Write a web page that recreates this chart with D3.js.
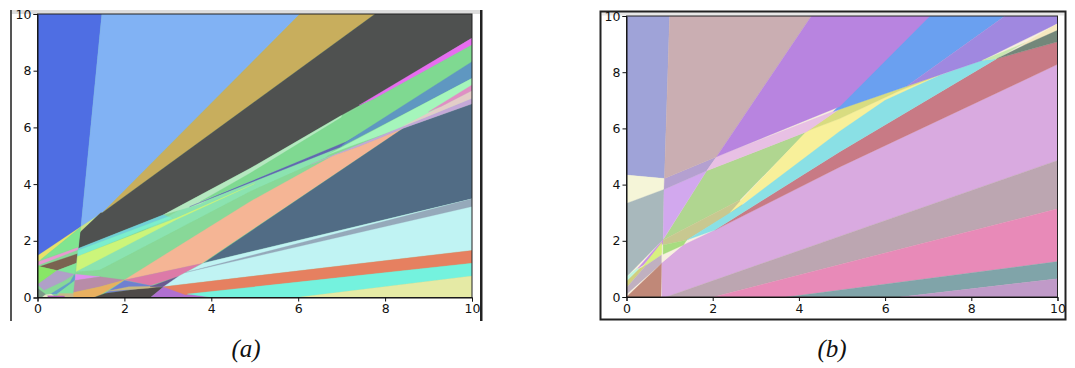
<!DOCTYPE html>
<html>
<head>
<meta charset="utf-8">
<script src="https://cdn.jsdelivr.net/npm/d3@7"></script>
<style>
html, body { margin: 0; padding: 0; background: #fff; }
svg { display: block; }
.axis text { font-family: "DejaVu Sans", sans-serif; font-size: 12.5px; fill: #111; }
.axis path, .axis line { stroke: #111; stroke-width: 1; }
.caption { font-family: "Liberation Serif", serif; font-style: italic; font-size: 25px; fill: #111; }
</style>
</head>
<body>
<svg id="chart" width="1075" height="368"></svg>
<script>
var tickValues = [0, 2, 4, 6, 8, 10];
var captions = ["(a)", "(b)"];

// regions of panel a, back to front, [x, y] in data units
var regionsA = [
    [[0,0],[10,0],[10,10],[0,10]],
    [[0,10],[1.48,10],[1.0,2.5],[0,1.45]],
    [[1.48,10],[6.04,10],[1.5,3.0],[1.0,2.5]],
    [[6.04,10],[7.77,10],[1.5,3.0]],
    [[1.0,2.5],[1.5,3.0],[1.45,2.98],[0.98,2.3]],
    [[1.45,2.98],[1.5,3.0],[7.77,10],[10,10],[10,9.15],[7.73,7.05],[6.96,6.4],[4.9,4.56],[2.9,2.92],[0.95,1.74],[0.98,2.3]],
    [[0,1.47],[1.0,2.5],[0,1.25]],
    [[0.1,1.36],[1.0,2.48],[0.93,1.76]],
    [[0,1.25],[0.93,1.76],[0.93,1.68],[0,1.13]],
    [[0.05,1.09],[0.92,1.54],[0.89,1.21],[0.45,0.95]],
    [[0,1.1],[0.05,1.09],[0.45,0.95],[0,0.46]],
    [[0.45,0.95],[0.89,1.21],[0.85,0.82]],
    [[0.45,0.95],[0.85,0.82],[0.6,0.58],[0.15,0.26],[0,0.46]],
    [[0.85,0.82],[0.75,0.55],[0.3,0.12],[0.45,0.12],[0.88,0.62]],
    [[0.88,0.62],[0.45,0.12],[0.5,0],[0.85,0]],
    [[0.5,0.14],[0.85,0.14],[0.85,0],[0.42,0]],
    [[0,0.33],[0.2,0.1],[0.1,0],[0,0]],
    [[0.18,0.1],[0.32,0.12],[0.42,0],[0.1,0]],
    [[0.23,0.06],[0.62,0.05],[0.62,0],[0.25,0]],
    [[0.89,0.92],[3.5,3.3],[6.96,5.4],[6.6,4.9],[4.9,3.74],[3.5,2.62],[1.44,0.97]],
    [[0.85,0.82],[1.44,0.97],[3.5,2.62],[4.9,3.74],[6.6,4.9],[6.6,4.5],[2.0,0.55],[1.44,0.73]],
    [[0.95,1.74],[2.9,2.92],[3.0,2.85],[0.93,1.66]],
    [[0.93,1.66],[3.0,2.85],[3.1,2.8],[0.92,1.45]],
    [[0.92,1.45],[3.2,2.8],[5.0,4.02],[3.2,2.75],[0.89,0.92]],
    [[0.88,0.82],[1.44,0.73],[0.86,0.6]],
    [[0.86,0.6],[1.44,0.73],[2.0,0.62],[1.44,0.38],[0.83,0.18]],
    [[0.83,0.18],[1.44,0.38],[2.0,0.62],[1.45,0.1],[1.3,0],[0.83,0]],
    [[2.0,0.62],[4.9,3.39],[6.8,5.0],[7.42,5.34],[8.42,5.97],[4.58,2.03],[3.78,1.2]],
    [[2.01,0.62],[3.78,1.2],[3.25,0.75],[2.59,0.42]],
    [[2.0,0.6],[2.59,0.42],[3.1,0.4],[2.6,0.36],[1.55,0.14]],
    [[1.55,0.14],[2.6,0.36],[2.9,0.36],[2.6,0],[1.3,0]],
    [[1.6,0.22],[2.1,0.38],[2.85,0.4],[2.55,0.33]],
    [[2.59,0.38],[3.25,0.75],[3.3,0.6],[2.9,0.38]],
    [[3.83,1.22],[8.42,5.97],[10,6.83],[10,3.48]],
    [[2.9,0.38],[3.25,0.75],[3.83,1.22],[10,3.48],[10,1.66]],
    [[3.4,0.88],[7.96,2.68],[10,3.48],[10,3.21]],
    [[2.6,0],[2.9,0.38],[3.45,0.12],[4.0,0]],
    [[2.9,0.38],[10,1.66],[10,1.21],[3.4,0.1]],
    [[3.45,0.12],[10,1.21],[10,0.76],[5.96,0],[4.05,0]],
    [[5.96,0],[10,0.76],[10,0]],
    [[2.9,2.92],[4.9,4.56],[7.0,6.42],[6.96,6.2],[3.74,3.3]],
    [[3.74,3.38],[4.9,4.39],[6.96,6.32],[7.73,7.0],[10,8.92],[10,8.3],[7.12,5.5]],
    [[7.4,6.78],[10,9.15],[10,8.92],[7.73,7.0]],
    [[3.5,3.2],[7.12,5.5],[7.4,5.75],[6.96,5.3]],
    [[6.96,5.3],[7.12,5.5],[10,8.32],[10,7.73]],
    [[6.7,5.05],[10,7.73],[10,6.9],[8.4,6.0],[7.4,5.45]],
    [[6.3,4.7],[10,7.03],[10,6.83],[8.42,5.97],[7.42,5.34],[6.8,5.0]],
    [[8.42,6.05],[10,7.3],[10,7.03],[9,6.4]],
    [[9,6.55],[10,7.5],[10,7.3],[9.3,6.75]]
];
var coloursA = [
    "#88d898", "#4f6ee3", "#81b2f4", "#c8ae5d", "#cde08a", "#4f5150", "#e8e26a", "#80e590",
    "#e89ad0", "#7a6350", "#88e666", "#80e59a", "#b0a0c8", "#64a0c8", "#80e0a0", "#c8b98a",
    "#7d9a88", "#e8e8c8", "#b060b0", "#8be3b0", "#88d898", "#70d0d8", "#7ceecd", "#ccf57a",
    "#e090f0", "#b88ca8", "#e8b060", "#f5b595", "#dc7aa8", "#6f80d0", "#4e4a48", "#c8b880",
    "#6a5a90", "#516c85", "#c0f3f3", "#95a9ba", "#b070d0", "#e68060", "#74f2de", "#e5eaa5",
    "#b5e8c0", "#7fd991", "#e76df0", "#6268b0", "#5f97c1", "#a5f5bb", "#c4a8d8", "#e3cdc8",
    "#e08fc4"
];

// regions of panel b, back to front
var regionsB = [
    [[0,0],[10,0],[10,10],[0,10]],
    [[0,10],[1,10],[0.88,4.22],[0,4.34]],
    [[0,4.34],[0.88,4.22],[0.87,3.83],[0,3.33]],
    [[0,3.33],[0.87,3.83],[0.85,2.05],[0,0.72]],
    [[0.25,1.0],[0.85,2.05],[0.85,1.9],[0.4,1.15]],
    [[0.36,1.05],[0.82,1.95],[0.82,1.5],[0.45,1.12]],
    [[0,0.72],[0.25,1.02],[0.3,0.95],[0,0.55]],
    [[0,0.55],[0.31,1.02],[0.45,1.12],[0,0.33]],
    [[0,0.1],[0.82,1.2],[0.82,1.5],[0.45,1.12],[0,0.33]],
    [[0,0],[0.8,0],[0.82,1.2]],
    [[0.82,0],[0.82,1.22],[1.32,1.85],[2.05,2.38],[4.95,4.63],[10,8.28],[10,4.86],[0.92,0]],
    [[0.82,1.22],[0.82,1.55],[1.3,1.85]],
    [[0.92,0],[10,4.86],[10,3.14],[2.02,0]],
    [[2.02,0],[10,3.14],[10,1.26],[3.72,0]],
    [[3.72,0],[10,1.26],[10,0.65],[6.35,0]],
    [[6.35,0],[10,0.65],[10,0]],
    [[2.05,2.38],[4.95,5.17],[8.59,8.48],[10,9.08],[10,8.28],[4.95,4.63]],
    [[0.85,2.03],[1.86,4.49],[4.18,5.88],[2.63,3.45]],
    [[0.85,2.03],[2.63,3.45],[2.7,3.25],[1.4,2.03],[0.85,1.85]],
    [[0.85,1.85],[1.4,2.03],[1.32,1.85],[0.85,1.52]],
    [[2.4,3.0],[2.63,3.4],[4.18,5.9],[4.95,6.35],[6.35,7.35],[7.27,7.95],[6,6.8],[4.95,5.7]],
    [[1.4,2.03],[2.63,3.21],[4.95,5.9],[6,7],[7.27,7.89],[8.24,8.42],[8.59,8.48],[4.95,5.17],[2.05,2.38]],
    [[4.18,5.9],[4.95,6.7],[7.27,7.9],[6.35,7.35],[4.95,6.35]],
    [[0.85,2.05],[0.87,3.83],[1.86,4.49]],
    [[0.87,3.83],[0.88,4.22],[2.09,4.99],[1.86,4.49]],
    [[1.86,4.49],[2.09,4.99],[4.95,6.7],[4.18,5.88]],
    [[1,10],[4.29,10],[2.09,4.99],[0.88,4.22]],
    [[4.8,6.6],[6.9,10],[8.78,10],[6.5,7.5]],
    [[4.29,10],[7.04,10],[4.95,6.78],[2.09,4.99]],
    [[8.78,10],[10,10],[10,9.73],[8.25,8.42],[6.5,7.5]],
    [[8.25,8.42],[9.25,9.05],[8.59,8.48]],
    [[9.15,8.95],[10,9.73],[10,9.49],[9.25,8.98]],
    [[8.59,8.48],[9.25,8.98],[10,9.49],[10,9.08]]
];
var coloursB = [
    "#f8f0e0", "#9fa3d8", "#f5f5d8", "#a8b8bc", "#c890e8", "#d8f080", "#c0f5e0", "#d0d080",
    "#c0b0c0", "#c08878", "#d9aae0", "#f8f0e0", "#bca6b1", "#e88ab8", "#80a4a9", "#c09ac8",
    "#c87a85", "#b0d690", "#c8c890", "#a8dc80", "#f8f09a", "#8ae0e5", "#d8dc80", "#d2a8ee",
    "#b4a0d0", "#e8c0e4", "#caaeb2", "#6aa0f0", "#b884e0", "#a088e0", "#c8e8b0", "#f5e8c0",
    "#73877a"
];

var svg = d3.select("#chart");

function panel(id, left, right, top, bottom, regions, colours) {
    var x = d3.scaleLinear().domain([0, 10]).range([left, right]);
    var y = d3.scaleLinear().domain([0, 10]).range([bottom, top]);
    var line = d3.line()
        .x(function (d) { return x(d[0]); })
        .y(function (d) { return y(d[1]); })
        .curve(d3.curveLinearClosed);

    svg.append("clipPath").attr("id", "clip-" + id)
        .append("rect")
        .attr("x", left).attr("y", top)
        .attr("width", right - left).attr("height", bottom - top);

    svg.append("g")
        .attr("clip-path", "url(#clip-" + id + ")")
        .selectAll("path")
        .data(regions)
        .join("path")
        .attr("d", line)
        .attr("fill", function (d, i) { return colours[i]; })
        .attr("stroke", function (d, i) { return colours[i]; })
        .attr("stroke-width", 0.3);

    svg.append("rect")
        .attr("x", left).attr("y", top)
        .attr("width", right - left).attr("height", bottom - top)
        .attr("fill", "none")
        .attr("stroke", "#222")
        .attr("stroke-width", 1);

    var xAxis = d3.axisBottom(x).tickValues(tickValues).tickSize(4).tickPadding(3);
    var yAxis = d3.axisLeft(y).tickValues(tickValues).tickSize(4).tickPadding(2);
    svg.append("g").attr("class", "axis")
        .attr("transform", "translate(0," + bottom + ")")
        .call(xAxis);
    svg.append("g").attr("class", "axis")
        .attr("transform", "translate(" + left + ",0)")
        .call(yAxis);
}

// bits of frame left over from the screenshot the figure was cut from
svg.append("rect").attr("x", 12).attr("y", 10).attr("width", 468).attr("height", 4).attr("fill", "#ddd");
svg.append("rect").attr("x", 10).attr("y", 10).attr("width", 2).attr("height", 311).attr("fill", "#555");
svg.append("rect").attr("x", 480).attr("y", 10).attr("width", 2.5).attr("height", 311).attr("fill", "#222");
svg.append("rect").attr("x", 602).attr("y", 12).attr("width", 462).attr("height", 3.5).attr("fill", "#e8e8e8");
svg.append("rect")
    .attr("x", 600.5).attr("y", 11.5).attr("width", 465).attr("height", 308)
    .attr("fill", "none").attr("stroke", "#222").attr("stroke-width", 2);

panel("a", 37.5, 472, 14, 297.5, regionsA, coloursA);
panel("b", 626.5, 1057.5, 16, 297, regionsB, coloursB);

svg.selectAll("text.caption")
    .data(captions)
    .join("text")
    .attr("class", "caption")
    .attr("x", function (d, i) { return i === 0 ? 246 : 832; })
    .attr("y", 357)
    .attr("text-anchor", "middle")
    .text(function (d) { return d; });
</script>
</body>
</html>
